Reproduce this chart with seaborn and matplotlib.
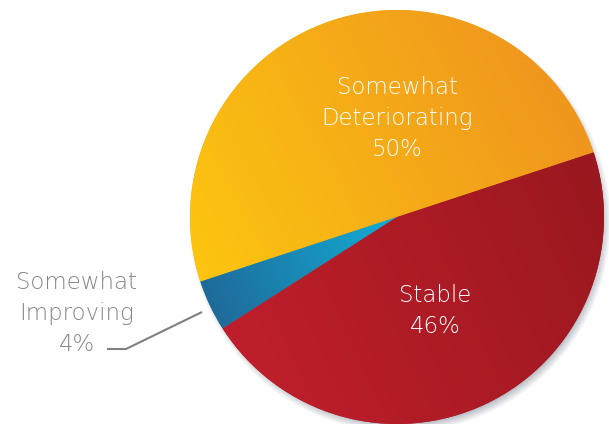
import numpy as np
import matplotlib
matplotlib.use("Agg")
import matplotlib.pyplot as plt
import seaborn as sns

# Survey outlook shares (percent)
categories = ["Somewhat\nDeteriorating", "Somewhat\nImproving", "Stable"]
shares = [50, 4, 46]
# gradient end colours for each slice (start, end)
slice_colors = [("#FDC70F", "#EE921F"), ("#13AED5", "#1F6898"), ("#C01F2C", "#9A181F")]

sns.set_theme(style="white")
plt.rcParams["font.family"] = ["DejaVu Sans"]

W, H = 609, 424
fig = plt.figure(figsize=(W / 100, H / 100), dpi=100)
ax = fig.add_axes([0, 0, 1, 1])

cx, cy, R = 397, 207, 207

# soft drop shadow under the pie, cast down and to the right
X, Y = np.meshgrid(np.arange(W) + 0.5, np.arange(H) + 0.5)
d = np.hypot(X - (cx + 3), Y - (cy - 5))
alpha = np.clip((R + 4 - d) / 10, 0, 1) * 0.6
shadow = np.zeros((H, W, 4))
shadow[..., 0] = 0.52
shadow[..., 1] = 0.55
shadow[..., 2] = 0.60
shadow[..., 3] = alpha
ax.imshow(shadow, extent=(0, W, 0, H), origin="lower", zorder=1,
          interpolation="bilinear")

wedges, _ = ax.pie(shares, startangle=18.2, counterclock=True,
                   center=(cx, cy), radius=R, labels=None,
                   wedgeprops=dict(linewidth=0))

# gradient directions per slice (from point -> to point)
grad_dirs = [((190, 124), (600, 344)),
             ((397, 207), (200, 124)),
             ((220, 84), (600, 254))]

for w, (c0, c1), (p0, p1) in zip(wedges, slice_colors, grad_dirs):
    c0 = np.array(matplotlib.colors.to_rgb(c0))
    c1 = np.array(matplotlib.colors.to_rgb(c1))
    p0 = np.array(p0, float)
    p1 = np.array(p1, float)
    dv = p1 - p0
    t = ((X - p0[0]) * dv[0] + (Y - p0[1]) * dv[1]) / (dv @ dv)
    t = np.clip(t, 0, 1)[..., None]
    img = c0 * (1 - t) + c1 * t
    w.set_facecolor(tuple((c0 + c1) / 2))
    w.set_zorder(2)
    im = ax.imshow(img, extent=(0, W, 0, H), origin="lower", zorder=3,
                   interpolation="bilinear")
    im.set_clip_path(w)

fs = 16.5
line_h = 31


def stacked(x, y_top_baseline, lines, color):
    for i, s in enumerate(lines):
        ax.text(x, y_top_baseline - i * line_h, s, ha="center", va="baseline",
                fontsize=fs, color=color, fontweight="light", zorder=5)


# slice labels
stacked(397.5, H - 94, categories[0].split("\n") + [f"{shares[0]}%"], "white")
stacked(435, H - 302, [categories[2], f"{shares[2]}%"], "white")
stacked(77, H - 289, categories[1].split("\n") + [f"{shares[1]}%"], "#858585")

# leader line for the small slice
ax.plot([107, 126, 202], [H - 349, H - 349, H - 312], color="#808080",
        lw=1.5, zorder=4, solid_capstyle="butt")

ax.set_xlim(0, W)
ax.set_ylim(0, H)
ax.set_aspect("equal")
ax.set_axis_off()

fig.savefig("out.png", dpi=100, facecolor="white")
